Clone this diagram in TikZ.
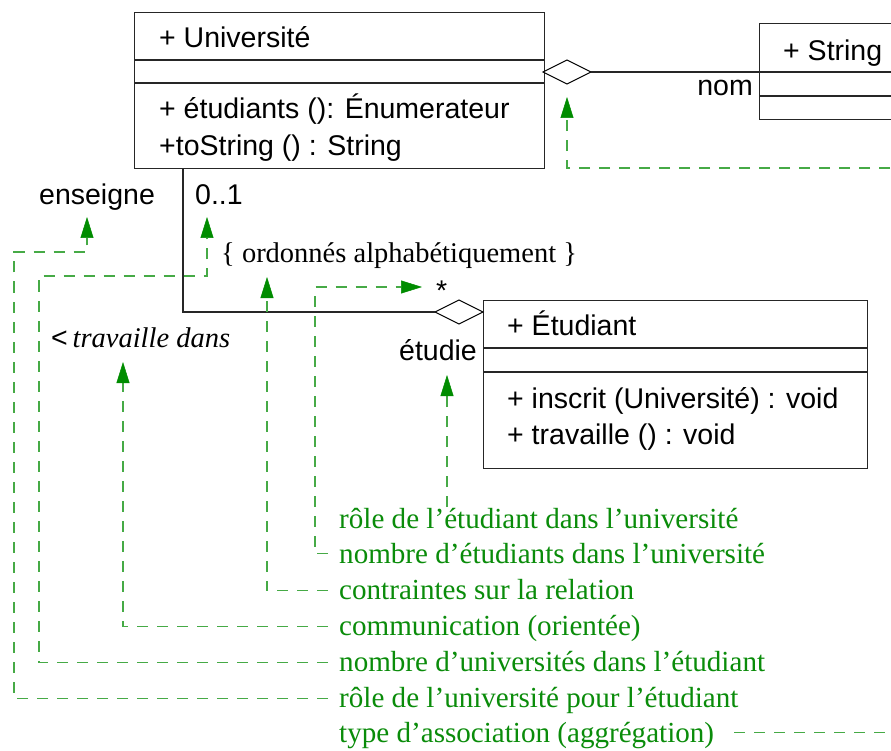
\documentclass[tikz,border=0pt]{standalone}
\usepackage{fontspec}
\setmainfont{Liberation Serif}
\newfontfamily\sansf{Liberation Sans}
\newfontfamily\seriff{Liberation Serif}
\usetikzlibrary{arrows.meta,calc}
\definecolor{gline}{RGB}{70,170,70}
\definecolor{gtext}{RGB}{10,140,10}
\definecolor{ghead}{RGB}{0,140,0}
\tikzset{
  box/.style={draw=black!85,line width=1.3pt,anchor=north west,inner sep=0pt},
  sep/.style={draw=black!85,line width=1.3pt},
  lbl/.style={font=\sansf\fontsize{28.5}{34}\selectfont,inner sep=0pt,anchor=base west},
  slbl/.style={font=\seriff\fontsize{28.5}{34}\selectfont,inner sep=0pt,anchor=base west},
  ann/.style={font=\seriff\fontsize{29.1}{34}\selectfont,text=gtext,inner sep=0pt,anchor=base west},
  conn/.style={draw=black!85,line width=1.3pt},
  dia/.style={draw=black,line width=1.1pt,fill=white},
  note/.style={draw=gline,line width=1.2pt,dash pattern=on 11pt off 9pt},
  notearr/.style={note,-{Triangle[length=21pt,width=13pt,color=ghead,fill=ghead,line width=0.5pt]}}
}
\begin{document}
\begin{tikzpicture}[x=1pt,y=-1pt]
\path[use as bounding box] (0,0) rectangle (891,751);
\clip (0,0) rectangle (891,751);
\fill[white] (0,0) rectangle (891,751);

% Universite box
\node[box,minimum width=410pt,minimum height=156pt] (univ) at (134,12) {};
\draw[sep] ([yshift=-48pt]univ.north west) -- ([yshift=-48pt]univ.north east);
\draw[sep] ([yshift=-71pt]univ.north west) -- ([yshift=-71pt]univ.north east);
\node[lbl] (univname) at (159,48) {+ Université};
\node[lbl] (univm1) at (159,119) {+ étudiants (): Énumerateur};
\node[lbl] (univm2) at (159,156) {+toString () : String};

% String box
\node[box,minimum width=200pt,minimum height=96pt] (str) at (759,23) {};
\draw[sep] ([yshift=-49pt]str.north west) -- ([yshift=-49pt]str.north east);
\draw[sep] ([yshift=-73pt]str.north west) -- ([yshift=-73pt]str.north east);
\node[lbl] (strname) at (783,61) {+ String};

% Etudiant box
\node[box,minimum width=384pt,minimum height=168pt] (etu) at (483,300) {};
\draw[sep] ([yshift=-48pt]etu.north west) -- ([yshift=-48pt]etu.north east);
\draw[sep] ([yshift=-72pt]etu.north west) -- ([yshift=-72pt]etu.north east);
\node[lbl] (etuname) at (507,335) {+ Étudiant};
\node[lbl] (etum1) at (507,408) {+ inscrit (Université) : void};
\node[lbl] (etum2) at (507,444) {+ travaille () : void};

% aggregation Universite -> String
\coordinate (d1w) at (543,72);
\draw[dia] (d1w) -- (567,60) -- (591,72) coordinate (d1e) -- (567,84) coordinate (d1s) -- cycle;
\draw[conn] (d1e) -- (str.west |- d1e);
\node[lbl,anchor=base east] (nom) at (753,96) {nom};

% association Universite -> Etudiant
\coordinate (d2e) at (483,312);
\draw[dia] (435,312) coordinate (d2w) -- (459,300) -- (d2e) -- (459,324) -- cycle;
\coordinate (abend) at (183,312);
\draw[conn] (univ.south west -| abend) -- (abend) -- (d2w);

\node[lbl] (ens) at (39,205) {enseigne};
\node[lbl] (mult1) at (195,205) {0..1};
\node[slbl] (ord) at (221,263) {\{ ordonnés alphabétiquement \}};
\node[lbl] (star) at (436,301) {*};
\node[lbl] (trav) at (51,347) {<\,{\seriff\itshape travaille dans}};
\node[lbl,anchor=base east] (etudie) at (477,360) {étudie};

% annotations
\node[ann] (t1) at (339,528) {rôle de l’étudiant dans l’université};
\node[ann] (t2) at (339,563.5) {nombre d’étudiants dans l’université};
\node[ann] (t3) at (339,599.5) {contraintes sur la relation};
\node[ann] (t4) at (339,635.5) {communication (orientée)};
\node[ann] (t5) at (339,671.5) {nombre d’universités dans l’étudiant};
\node[ann] (t6) at (339,707.5) {rôle de l’université pour l’étudiant};
\node[ann] (t7) at (339,742.5) {type d’association (aggrégation)};

% annotation connectors
\draw[notearr] ($(t1.base west)+(108,-21)$) -- ($(t1.base west)+(108,-153)$);
\draw[notearr] ($(t2.base west)+(-11,-10)$) -- ($(t2.base west)+(-24,-10)$) -- (315,287) -- ($(star.base west)+(-14,-14)$);
\draw[notearr] ($(t3.base west)+(-11,-9)$) -- (267,590.5) -- ($(ord.base west)+(46,14)$);
\draw[notearr] ($(t4.base west)+(-11,-9)$) -- (123,626.5) -- ($(trav.base west)+(72,15)$);
\draw[notearr] ($(t5.base west)+(-11,-9)$) -- (39,662.5) -- (39,276) -- (207,276) -- ($(mult1.base west)+(12,12)$);
\draw[notearr] ($(t6.base west)+(-11,-9)$) -- (14,698.5) -- (14,252) -- (87,252) -- ($(ens.base west)+(48,12)$);
\draw[notearr] ($(t7.base east)+(20,-10)$) -- (900,732.5) -- (900,168) -- (567,168) -- ($(d1s)+(0,13)$);
\end{tikzpicture}
\end{document}
